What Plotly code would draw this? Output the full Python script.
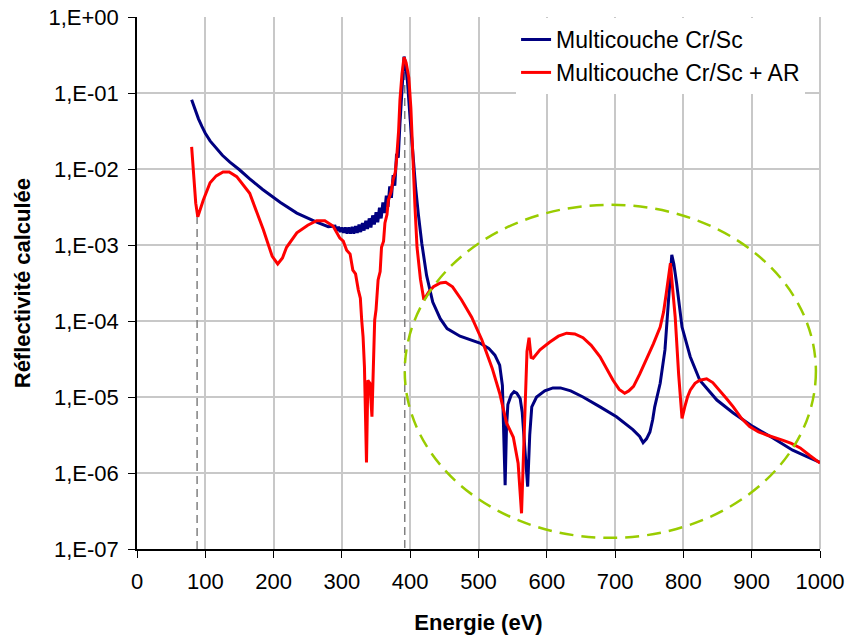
import plotly.graph_objects as go

# ---------------- data ----------------
blue_ev = [80, 85, 90, 95, 100, 107, 115, 125, 136, 150, 165, 184, 210, 234, 263, 280,
           290, 292.5, 295, 297.5, 300, 302.5, 305, 307.5, 310, 312.5, 315, 317.5,
           320, 322.5, 325, 327.5, 330, 332.5, 335, 337.5, 340, 342.5, 345, 347.5,
           350, 352.5, 355, 357.5, 360, 362.5, 365, 367.5, 370, 372.5, 375, 377.5,
           380, 382.5, 385, 388, 391, 393, 396, 400, 404, 408, 412, 417, 424, 433,
           444, 454, 473, 490, 502, 515, 524, 531, 535, 539, 541, 543, 548, 552,
           556, 561, 564, 568, 572, 575, 578, 585, 597, 609, 620, 635, 653, 678,
           702, 726, 736, 741, 746, 751, 755, 758, 766, 773, 778, 781, 783, 786,
           790, 798, 810, 824, 849, 873, 902, 931, 960, 980, 1000]
blue_log10 = [-1.09, -1.22, -1.34, -1.44, -1.53, -1.63, -1.72, -1.82, -1.91, -2.01, -2.13, -2.27, -2.44, -2.58, -2.70, -2.76,
              -2.75, -2.81, -2.76, -2.83, -2.77, -2.84, -2.77, -2.85, -2.77, -2.85, -2.76, -2.85,
              -2.75, -2.84, -2.73, -2.83, -2.71, -2.81, -2.68, -2.79, -2.65, -2.77, -2.61, -2.73,
              -2.57, -2.70, -2.51, -2.65, -2.44, -2.58, -2.35, -2.50, -2.23, -2.38, -2.08, -2.22,
              -1.80, -1.85, -1.40, -0.90, -0.52, -0.60, -0.85, -1.35, -1.85, -2.25, -2.60, -2.98, -3.40, -3.75,
              -3.97, -4.10, -4.20, -4.25, -4.29, -4.36, -4.45, -4.58, -4.85, -6.16, -5.40, -5.10, -4.97, -4.93,
              -4.95, -5.02, -5.20, -5.70, -6.18, -5.50, -5.13, -5.00, -4.92, -4.88, -4.88, -4.92, -5.00, -5.13,
              -5.26, -5.43, -5.52, -5.60, -5.55, -5.46, -5.30, -5.13, -4.82, -4.38, -3.72, -3.30, -3.13, -3.25,
              -3.50, -4.08, -4.47, -4.78, -5.04, -5.21, -5.39, -5.54, -5.70, -5.78, -5.86]

red_ev = [80, 83, 86, 89, 93, 97, 107, 116, 126, 135, 146, 165, 185, 198, 206, 213, 219,
          234, 250, 263, 275, 287, 297, 302, 307, 312, 316, 320, 324, 327, 329, 331, 333,
          336, 338, 341, 344, 346, 348, 350, 353, 356, 358, 361, 363, 366, 368, 372, 375,
          378, 380, 383, 385, 388, 391, 394, 398, 401, 404, 407, 410, 415, 420, 427, 434,
          444, 452, 462, 475, 490, 505, 520, 531, 541, 551, 558, 563, 566, 569, 571, 574,
          577, 580, 590, 604, 617, 629, 641, 653, 665, 678, 688, 697, 706, 714, 720, 727,
          736, 746, 756, 766, 771, 775, 778, 781, 784, 788, 793, 798, 802, 806, 810, 817,
          824, 834, 843, 853, 863, 873, 885, 897, 910, 922, 934, 946, 958, 971, 985, 1000]
red_log10 = [-1.71, -2.05, -2.45, -2.63, -2.52, -2.41, -2.18, -2.09, -2.04, -2.04, -2.10, -2.32, -2.80, -3.15, -3.25, -3.17, -3.03,
             -2.84, -2.74, -2.68, -2.68, -2.75, -2.91, -2.95, -3.07, -3.12, -3.33, -3.38, -3.59, -3.70, -3.99, -4.21, -4.60,
             -5.86, -4.78, -4.82, -5.26, -4.50, -3.99, -3.85, -3.46, -3.35, -3.03, -2.95, -2.71, -2.60, -2.41, -2.30, -2.14,
             -2.05, -1.88, -1.50, -1.09, -0.75, -0.53, -0.60, -0.80, -1.20, -1.90, -2.50, -3.03, -3.45, -3.72, -3.62, -3.55,
             -3.50, -3.49, -3.55, -3.72, -3.95, -4.25, -4.62, -4.95, -5.34, -5.53, -5.87, -6.53, -5.70, -4.74, -4.40, -4.22,
             -4.48, -4.49, -4.38, -4.28, -4.20, -4.16, -4.17, -4.22, -4.32, -4.47, -4.63, -4.78, -4.90, -4.95, -4.92, -4.86,
             -4.70, -4.51, -4.30, -4.08, -3.88, -3.63, -3.40, -3.24, -3.55, -3.95, -4.70, -5.28, -5.13, -5.00, -4.91, -4.82,
             -4.78, -4.76, -4.81, -4.91, -5.02, -5.13, -5.28, -5.39, -5.46, -5.50, -5.53, -5.57, -5.61, -5.67, -5.77, -5.87]

# guide lines (dashed, grey) at the two characteristic energies
guide1_ev = [88, 88]
guide1_val = [2.4e-3, 1e-7]
guide2_ev = [392, 392]
guide2_val = [0.28, 1e-7]

y_tickvals = [1e0, 1e-1, 1e-2, 1e-3, 1e-4, 1e-5, 1e-6, 1e-7]
y_ticktext = ["1,E+00", "1,E-01", "1,E-02", "1,E-03", "1,E-04", "1,E-05", "1,E-06", "1,E-07"]
x_tickvals = [0, 100, 200, 300, 400, 500, 600, 700, 800, 900, 1000]

blue_val = [10 ** v for v in blue_log10]
red_val = [10 ** v for v in red_log10]

FONT = "Liberation Sans, Arial, sans-serif"

fig = go.Figure()
for gx, gy in ((guide1_ev, guide1_val), (guide2_ev, guide2_val)):
    fig.add_trace(go.Scatter(x=gx, y=gy, mode="lines", showlegend=False, hoverinfo="skip",
                             line=dict(color="#808080", width=1.5, dash="8px,5px")))

fig.add_trace(go.Scatter(x=blue_ev, y=blue_val, mode="lines", name="Multicouche Cr/Sc",
                         line=dict(color="#000080", width=3)))
fig.add_trace(go.Scatter(x=red_ev, y=red_val, mode="lines", name="Multicouche Cr/Sc + AR",
                         line=dict(color="#FF0000", width=3)))

# green dashed ellipse highlighting the region of interest
fig.add_shape(type="circle", xref="paper", yref="paper",
              x0=0.392, x1=0.994, y0=0.021, y1=0.647,
              line=dict(color="#99CC00", width=2.5, dash="14px,8px"), layer="above")

# y-axis title placed as an annotation (fixed position in the left margin)
fig.add_annotation(text="<b>Réflectivité calculée</b>", xref="paper", yref="paper",
                   x=-0.168, y=0.5, xanchor="center", yanchor="middle", textangle=-90,
                   showarrow=False, font=dict(size=22, family=FONT, color="black"))

fig.update_layout(
    width=848, height=639,
    margin=dict(l=137, r=28, t=17, b=90, autoexpand=False),
    paper_bgcolor="white", plot_bgcolor="white",
    font=dict(family=FONT, color="black"),
    legend=dict(x=0.555, y=0.998, xanchor="left", yanchor="top",
                font=dict(size=23, family=FONT), bgcolor="white",
                tracegroupgap=0, itemwidth=30),
)
fig.update_xaxes(range=[0, 1000], tickvals=x_tickvals, ticks="outside", ticklen=7,
                 tickcolor="black", tickwidth=1.3, automargin=False,
                 showline=True, linecolor="black", linewidth=1.5,
                 showgrid=True, gridcolor="#C8C8C8", gridwidth=1.5,
                 tickfont=dict(size=22), zeroline=False, ticklabelstandoff=5,
                 title=dict(text="<b>Energie (eV)</b>", font=dict(size=22), standoff=21))
fig.update_yaxes(type="log", range=[-7, 0], tickvals=y_tickvals, ticktext=y_ticktext,
                 ticks="outside", ticklen=7, tickcolor="black", tickwidth=1.3, automargin=False,
                 showline=True, linecolor="black", linewidth=1.5,
                 showgrid=True, gridcolor="#C8C8C8", gridwidth=1.5,
                 tickfont=dict(size=22), zeroline=False, ticklabelstandoff=5)
# right frame line (light grey) like the reference
fig.add_shape(type="line", xref="paper", yref="paper", x0=1, x1=1, y0=0, y1=1,
              line=dict(color="#C8C8C8", width=2), layer="below")

fig.write_html("out.html")
